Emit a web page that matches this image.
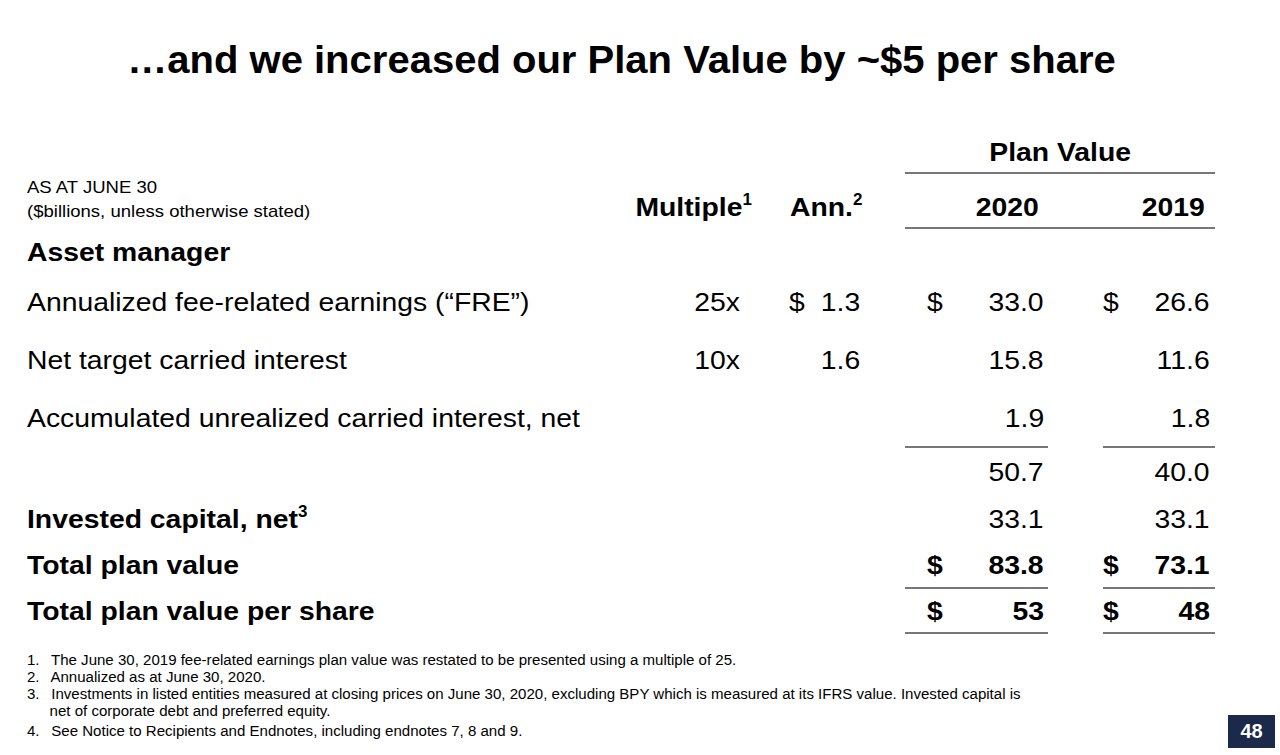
<!DOCTYPE html>
<html><head><meta charset="utf-8">
<script src="https://cdn.jsdelivr.net/npm/chart.js@4.4.0/dist/chart.umd.min.js"></script>
<style>
body{margin:0;width:1280px;height:755px;background:#fff;font-family:"Liberation Sans",Arial,sans-serif;color:#000;position:relative;overflow:hidden}
.t{position:absolute;white-space:nowrap;line-height:1}
.r{text-align:right}
.ln{position:absolute;height:1.5px;background:#777}
sup{font-size:60%;vertical-align:top;position:relative;top:-2px}
</style></head><body>
<script>
const rowLabels=["Annualized fee-related earnings (\u201cFRE\u201d)","Net target carried interest","Accumulated unrealized carried interest, net","","Invested capital, net<sup>3</sup>","Total plan value","Total plan value per share"];
const multiples=["25x","10x","","","","",""];
const annualized=["1.3","1.6","","","","",""];
const annDollar=[true,false,false,false,false,false,false];
const plan2020=["33.0","15.8","1.9","50.7","33.1","83.8","53"];
const plan2019=["26.6","11.6","1.8","40.0","33.1","73.1","48"];
const dollarRows=[true,false,false,false,false,true,true];
const boldLabels=[false,false,false,false,true,true,true];
const boldValues=[false,false,false,false,false,true,true];
const footnotes=["1.\u2002 The June 30, 2019 fee-related earnings plan value was restated to be presented using a multiple of 25.","2.\u2002 Annualized as at June 30, 2020.","3.\u2002 Investments in listed entities measured at closing prices on June 30, 2020, excluding BPY which is measured at its IFRS value. Invested capital is","\u2003\u2002net of corporate debt and preferred equity.","4.\u2002 See Notice to Recipients and Endnotes, including endnotes 7, 8 and 9."];
const rowY=[302,360,418,472,519,565,611];
const fnY=[660,677,694,711,731];
function T(txt,x,y,size,bold,right,sx,extra){const d=document.createElement('div');d.className='t'+(right?' r':'');d.innerHTML=txt;d.style.fontSize=size+'px';d.style.fontWeight=bold?'bold':'normal';d.style.top=(y-size*0.5)+'px';if(right){d.style.right=(1280-x)+'px';d.style.transformOrigin='right center';}else{d.style.left=x+'px';d.style.transformOrigin='left center';}d.style.transform='scaleX('+(sx||1.09)+')';if(extra)Object.assign(d.style,extra);document.body.appendChild(d);}
function L(x1,x2,y){const d=document.createElement('div');d.className='ln';d.style.left=x1+'px';d.style.width=(x2-x1)+'px';d.style.top=y+'px';document.body.appendChild(d);}
T("\u2026and we increased our Plan Value by ~$5 per share",0,60,38,true,false,1,{width:'1243px',textAlign:'center',transform:'none'});
T("Plan Value",1131,152,26,true,true);
L(905,1215,172);
T("AS AT JUNE 30",27,187,17,false);
T("($billions, unless otherwise stated)",27,211,17,false);
T("Multiple<sup>1</sup>",752,207,26,true,true);
T("Ann.<sup>2</sup>",862,207,26,true,true);
T("2020",1039,207,26,true,true);
T("2019",1205,207,26,true,true);
L(905,1215,227);
T("Asset manager",27,252,26,true);
rowLabels.forEach((l,i)=>{const y=rowY[i],b=boldValues[i];
 if(l)T(l,27,y,26,boldLabels[i]);
 if(multiples[i])T(multiples[i],740,y,26,false,true);
 if(annualized[i])T(annualized[i],860,y,26,false,true);
 if(annDollar[i])T("$",789,y,26,false);
 if(dollarRows[i]){T("$",927,y,26,b);T("$",1103,y,26,b);}
 T(plan2020[i],1044,y,26,b,true);
 T(plan2019[i],1210,y,26,b,true);
});
[446,587,632].forEach(y=>{L(905,1048,y);L(1103,1215,y);});
footnotes.forEach((f,i)=>T(f,27,fnY[i],14,false,false,1.075));
const title=document.body.children[document.body.children.length-1];
const pg=document.createElement('div');pg.className='t';pg.textContent='48';Object.assign(pg.style,{left:'1228px',top:'715px',width:'47px',height:'33px',lineHeight:'33px',textAlign:'center',background:'#1b2a4a',color:'#fff',fontWeight:'bold',fontSize:'20px'});document.body.appendChild(pg);
document.querySelectorAll('.t')[0].style.transform='scaleX(1.053)';
document.querySelectorAll('.t')[0].style.transformOrigin='621px center';
</script>
</body></html>
